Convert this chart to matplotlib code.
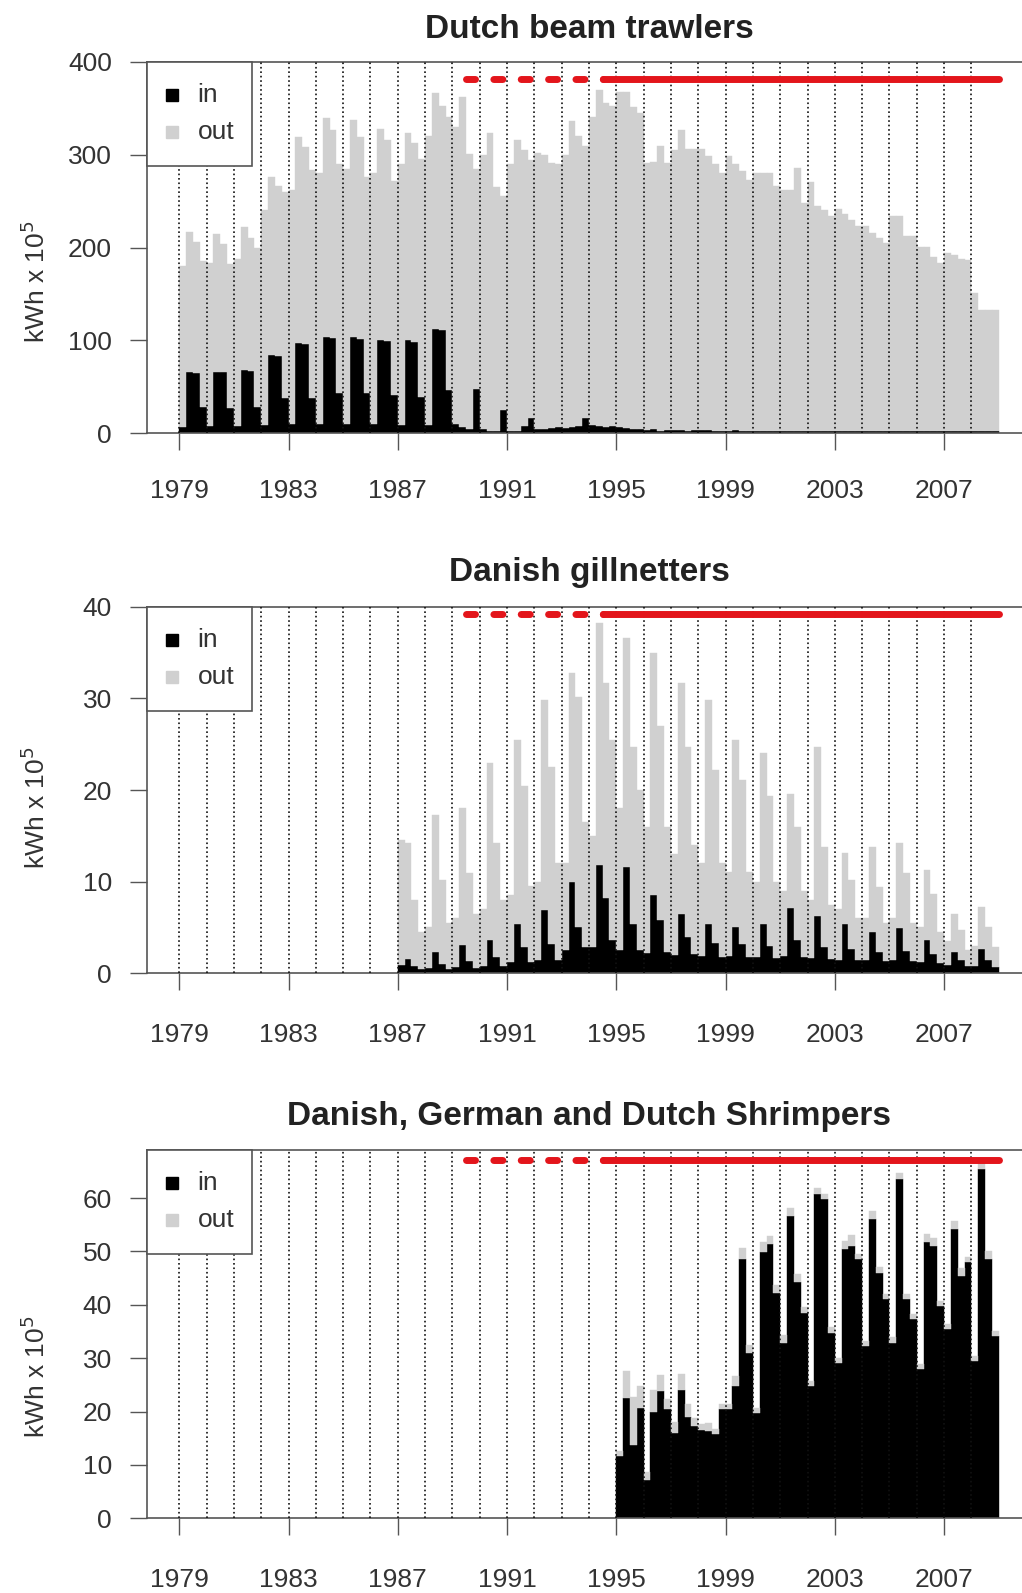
import numpy as np
import matplotlib.pyplot as plt
from matplotlib.lines import Line2D
from matplotlib.patches import Rectangle

plt.rcParams['font.family'] = ['Liberation Sans', 'DejaVu Sans']
plt.rcParams['lines.scale_dashes'] = False

# quarterly effort, kWh x 10^5 (Q1..Q4 per row)
beam_start = 1979
beam_in = [
    7, 66, 65, 28,      # 1979
    8, 66, 66, 27,
    8, 68, 67, 28,
    9, 84, 83, 38,
    10, 97, 96, 38,
    10, 104, 103, 43,   # 1984
    10, 104, 102, 43,
    10, 100, 99, 41,
    9, 100, 98, 39,
    9, 112, 111, 47,
    10, 7, 5, 48,       # 1989
    5, 3, 2, 25,
    3, 3, 8, 17,
    5, 5, 6, 7,
    6, 7, 8, 17,
    9, 8, 7, 8,         # 1994
    7, 6, 5, 5,
    4, 5, 3, 4,
    4, 4, 3, 4,
    4, 4, 3, 3,
    3, 4, 3, 3,         # 1999
    3, 3, 3, 3,
    3, 3, 2, 3,
    3, 3, 2, 3,
    2, 3, 2, 2,
    3, 3, 2, 3,         # 2004
    3, 3, 2, 3,
    3, 3, 2, 3,
    2, 2, 2, 2,
    2, 2, 2, 2,
]
beam_total = [
    180, 217, 206, 185,  # 1979
    183, 215, 204, 182,
    188, 222, 210, 200,
    240, 276, 266, 260,
    262, 319, 308, 283,
    280, 339, 326, 290,  # 1984
    285, 337, 319, 276,
    280, 328, 316, 272,
    290, 323, 312, 295,
    320, 366, 352, 341,
    330, 362, 301, 285,  # 1989
    300, 323, 265, 255,
    290, 316, 305, 294,
    302, 300, 291, 290,
    300, 336, 320, 309,
    340, 370, 356, 352,  # 1994
    367, 367, 351, 345,
    291, 292, 309, 291,
    305, 327, 306, 306,
    306, 298, 290, 280,
    298, 290, 282, 273,  # 1999
    280, 280, 280, 266,
    262, 262, 286, 248,
    270, 245, 240, 234,
    241, 236, 230, 223,
    223, 216, 210, 205,  # 2004
    234, 234, 212, 212,
    201, 201, 190, 183,
    194, 192, 188, 187,
    151, 133, 133, 133,
]

gill_start = 1987
gill_in = [
    0.9, 1.6, 0.8, 0.5,   # 1987
    0.6, 2.3, 1.0, 0.5,
    0.7, 3.1, 1.3, 0.6,
    0.8, 3.6, 1.8, 0.8,   # 1990
    1.2, 5.4, 2.9, 1.2,
    1.5, 6.9, 3.2, 1.5,
    2.5, 10.0, 5.1, 2.9,
    2.9, 11.8, 8.2, 3.6,
    2.5, 11.6, 5.4, 2.5,  # 1995
    2.2, 8.5, 5.8, 2.3,
    2.0, 6.5, 4.0, 2.1,
    1.9, 5.4, 3.3, 1.8,
    1.9, 5.1, 3.2, 1.8,
    1.8, 5.4, 3.0, 1.7,   # 2000
    1.9, 7.1, 3.6, 1.8,
    1.7, 6.2, 2.9, 1.6,
    1.5, 5.4, 2.6, 1.4,
    1.4, 4.5, 2.3, 1.3,
    1.4, 4.9, 2.4, 1.3,   # 2005
    1.2, 3.6, 2.1, 1.1,
    0.9, 2.3, 1.4, 0.8,
    0.8, 2.7, 1.4, 0.7,
]
gill_total = [
    14.5, 14.2, 8.0, 4.5,  # 1987
    5.0, 17.3, 10.2, 5.5,
    6.0, 18.0, 10.9, 6.5,
    7.0, 23.0, 14.2, 8.0,  # 1990
    8.5, 25.5, 20.4, 9.5,
    10.0, 29.8, 22.5, 12.0,
    12.0, 32.8, 30.2, 16.5,
    15.0, 38.2, 31.7, 25.5,
    18.0, 36.6, 24.7, 20.0,  # 1995
    16.0, 35.0, 27.0, 16.0,
    13.0, 31.7, 24.7, 14.0,
    12.0, 29.8, 22.2, 12.0,
    11.0, 25.5, 21.1, 11.0,
    10.0, 24.0, 19.3, 10.0,  # 2000
    9.0, 19.6, 16.0, 9.0,
    8.0, 24.7, 13.8, 7.5,
    7.0, 13.1, 10.2, 6.0,
    6.0, 13.8, 9.4, 5.5,
    6.0, 14.2, 10.9, 5.5,    # 2005
    5.0, 11.3, 8.7, 4.5,
    3.5, 6.5, 4.7, 2.5,
    3.0, 7.2, 5.1, 2.9,
]

shrimp_start = 1995
shrimp_in = [
    11.6, 22.6, 13.8, 20.7,  # 1995
    7.2, 20.0, 23.8, 20.4,
    16.0, 24.0, 19.0, 17.2,
    16.6, 16.3, 15.7, 20.4,
    20.4, 24.7, 48.6, 31.0,
    19.7, 49.8, 51.4, 42.3,  # 2000
    32.9, 56.7, 44.2, 38.5,
    24.7, 60.8, 59.8, 34.8,
    29.1, 50.4, 51.0, 48.6,
    32.3, 56.1, 46.0, 41.0,
    32.9, 63.6, 41.0, 37.3,  # 2005
    27.9, 51.7, 51.0, 39.8,
    35.4, 54.2, 45.4, 48.0,
    29.4, 65.5, 48.6, 34.1,
]
shrimp_out = [
    1.0, 5.0, 9.0, 4.0,
    1.5, 4.0, 3.0, 2.0,
    2.0, 3.0, 2.5, 1.5,
    1.0, 1.5, 1.0, 1.0,
    1.0, 2.0, 2.0, 1.5,
    1.0, 2.0, 1.5, 1.5,
    1.5, 1.5, 1.5, 1.0,
    1.0, 1.0, 1.0, 1.0,
    1.0, 1.5, 2.0, 1.0,
    1.0, 1.5, 1.0, 1.0,
    1.0, 1.0, 1.0, 1.0,
    1.0, 1.5, 1.5, 1.0,
    1.0, 1.5, 1.5, 1.0,
    1.0, 1.0, 1.5, 1.0,
]

titles = ['Dutch beam trawlers', 'Danish gillnetters',
          'Danish, German and Dutch Shrimpers']
year_ticks = list(range(1979, 2009, 4))
year_lines = list(range(1979, 2009))
closure_dashed = [1989.5, 1994.5]
closure_solid = [1994.5, 2009.0]
closure_level = [381.3, 39.15, 67.2]
ylims = [400, 40, 69.0]
yticks = [range(0, 401, 100), range(0, 41, 10), range(0, 61, 10)]

panels = [
    (beam_start, beam_in, list(np.array(beam_total) - np.array(beam_in))),
    (gill_start, gill_in, list(np.array(gill_total) - np.array(gill_in))),
    (shrimp_start, shrimp_in, shrimp_out),
]

W, H = 1022, 1593
fig = plt.figure(figsize=(W / 100, H / 100), dpi=100)

# axes boxes in pixels: (top, bottom)
boxes = [(61.7, 433.3), (606.7, 973.3), (1150.0, 1518.3)]
title_y = [30, 572, 1116]
ylabel_y = [282, 808, 1377]
xlabel_pad = [21, 24, 24]
left_px, width_px = 146.5, 885.0

grey = '#d0d0d0'
red = '#e3151b'
ink = '#333333'

for i, (start, vin, vout) in enumerate(panels):
    top, bot = boxes[i]
    hpx = bot - top
    ax = fig.add_axes([left_px / W, 1 - bot / H, width_px / W, hpx / H])
    x = start + np.arange(len(vin)) * 0.25
    ax.bar(x, vin, width=0.25, align='edge', color='black',
           edgecolor='black', linewidth=0.3, zorder=2)
    ax.bar(x, vout, bottom=vin, width=0.25, align='edge', color=grey,
           edgecolor=grey, linewidth=0.3, zorder=2)
    for yr in year_lines:
        ax.axvline(yr, color='#111111', lw=1.2, linestyle=(0, (1.2, 2.0)), zorder=3)
    ax.plot(closure_dashed, [closure_level[i]] * 2, color=red, lw=5,
            linestyle=(0, (6.5, 13.2)), dash_capstyle='round', zorder=4)
    ax.plot(closure_solid, [closure_level[i]] * 2, color=red, lw=5,
            solid_capstyle='round', zorder=4)

    ax.set_xlim(1977.8, 2010.2)
    ax.set_ylim(0, ylims[i])
    ax.set_xticks(year_ticks)
    ax.set_xticklabels([str(y) for y in year_ticks])
    ax.set_yticks(list(yticks[i]))
    ax.tick_params(axis='both', direction='out', length=12, width=1.0,
                   colors='#555555', labelcolor=ink, labelsize=19)
    ax.tick_params(axis='x', pad=xlabel_pad[i])
    ax.tick_params(axis='y', pad=13)
    for side in ['top', 'bottom', 'left', 'right']:
        ax.spines[side].set_color('#555555')
        ax.spines[side].set_linewidth(1.2)

    # legend box drawn in the top left corner (pixel sizes -> axes fraction)
    lw_f, lh_f = 105 / width_px, 104 / hpx
    ax.add_patch(Rectangle((0, 1 - lh_f), lw_f, lh_f, transform=ax.transAxes,
                           facecolor='white', edgecolor='#555555', lw=1.2,
                           zorder=5, clip_on=False))
    for k, (lab, col) in enumerate([('in', 'black'), ('out', grey)]):
        yy = 1 - (33 + 37 * k) / hpx
        ax.plot([25.5 / width_px], [yy], marker='s', markersize=8.5, color=col,
                linestyle='none', transform=ax.transAxes, zorder=6, clip_on=False)
        ax.text(51 / width_px, yy, lab, transform=ax.transAxes, ha='left',
                va='center', fontsize=19, color=ink, zorder=6)

    fig.text((left_px + width_px / 2) / W, 1 - title_y[i] / H, titles[i],
             ha='center', va='center', fontsize=24, fontweight='bold', color='#222222')
    fig.text(36 / W, 1 - ylabel_y[i] / H, r'kWh x 10$^5$', rotation=90,
             ha='center', va='center', fontsize=19, color=ink)

fig.savefig('out.png', dpi=100)
